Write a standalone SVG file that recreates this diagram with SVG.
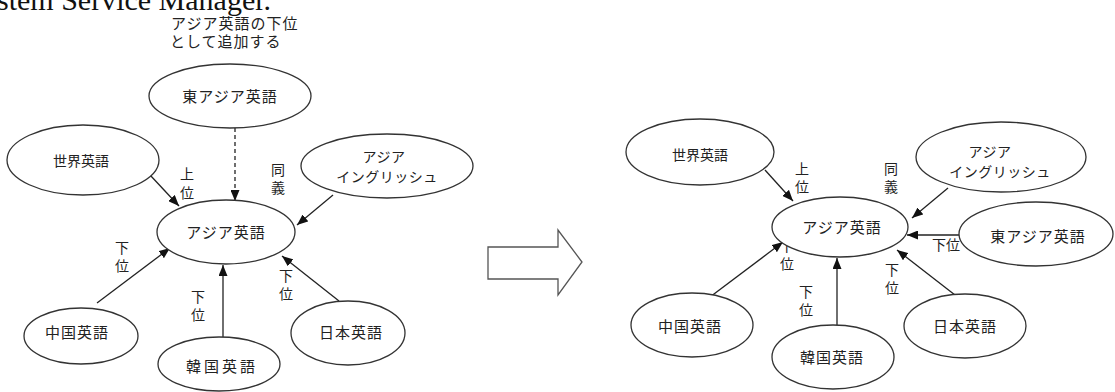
<svg xmlns="http://www.w3.org/2000/svg" width="1115" height="392" viewBox="0 0 1115 392">
<style>
  .n ellipse { fill: #fff; stroke: #333; stroke-width: 1.3; }
  .n text, .lbl { font-family: "Noto Sans CJK JP", "Noto Sans", sans-serif; fill: #222; text-anchor: middle; }
  .n text { font-size: 15px; letter-spacing: 1px; }
  .lbl { font-size: 14px; }
  .top { font-family: "Noto Sans CJK JP", "Noto Sans", sans-serif; fill: #222; font-size: 15px; letter-spacing: 1px; }
  .c line { stroke: #222; stroke-width: 1.3; marker-end: url(#ah); }
  .title { font-family: "Liberation Serif", serif; font-size: 30px; fill: #111; }
</style>
<defs>
  <marker id="ah" markerUnits="userSpaceOnUse" markerWidth="11" markerHeight="9" refX="11" refY="4.5" orient="auto">
    <path d="M0,0 L11,4.5 L0,9 z" fill="#111"/>
  </marker>
</defs>
<rect width="1115" height="392" fill="#fff"/>
<text class="title" x="-3" y="10">stem Service Manager.</text>
<text class="top" x="171" y="29">アジア英語の下位</text>
<text class="top" x="170" y="47">として追加する</text>

<g id="connectors" class="c">
  <line x1="235" y1="128" x2="235" y2="201" stroke-dasharray="4,3"/>
  <line x1="150" y1="175" x2="179" y2="206"/>
  <line x1="333" y1="195" x2="297" y2="225"/>
  <line x1="97" y1="303" x2="170" y2="248"/>
  <line x1="223" y1="337" x2="223" y2="265"/>
  <line x1="339" y1="301" x2="282" y2="256"/>
  <line x1="765" y1="170" x2="793" y2="201"/>
  <line x1="948" y1="188" x2="912" y2="218"/>
  <line x1="959" y1="235" x2="907" y2="235"/>
  <line x1="955" y1="295" x2="897" y2="250"/>
  <line x1="706" y1="300" x2="783" y2="242"/>
  <line x1="837" y1="329" x2="837" y2="258"/>
</g>

<g id="edge-labels">
  <text class="lbl" x="187" y="179">上</text>
  <text class="lbl" x="187" y="198">位</text>
  <text class="lbl" x="278" y="175">同</text>
  <text class="lbl" x="278" y="193">義</text>
  <text class="lbl" x="122" y="253">下</text>
  <text class="lbl" x="122" y="271">位</text>
  <text class="lbl" x="198" y="302">下</text>
  <text class="lbl" x="198" y="320">位</text>
  <text class="lbl" x="286" y="281">下</text>
  <text class="lbl" x="286" y="299">位</text>
  <text class="lbl" x="802" y="174">上</text>
  <text class="lbl" x="802" y="192">位</text>
  <text class="lbl" x="891" y="174">同</text>
  <text class="lbl" x="891" y="192">義</text>
  <text class="lbl" x="946" y="250">下位</text>
  <text class="lbl" x="892" y="275">下</text>
  <text class="lbl" x="892" y="293">位</text>
  <text class="lbl" x="787" y="251">下</text>
  <text class="lbl" x="787" y="269">位</text>
  <text class="lbl" x="806" y="297">下</text>
  <text class="lbl" x="806" y="315">位</text>
</g>

<g id="transform-arrow">
  <polygon points="488,247 558,247 558,230 582,262 558,295 558,279 488,279" fill="#fff" stroke="#555" stroke-width="1.3"/>
</g>

<g id="L-east-asian" class="n"><ellipse cx="230" cy="96" rx="81" ry="32"/><text x="230" y="102">東アジア英語</text></g>
<g id="L-world" class="n"><ellipse cx="83" cy="160" rx="76" ry="35"/><text x="81" y="166" style="letter-spacing:0;font-size:14px">世界英語</text></g>
<g id="L-asian" class="n"><ellipse cx="226" cy="232" rx="69" ry="32"/><text x="226" y="238">アジア英語</text></g>
<g id="L-asianglish" class="n"><ellipse cx="387" cy="166" rx="86" ry="32"/><text x="384" y="162" style="font-size:14px;letter-spacing:0.5px">アジア</text><text x="387" y="182" style="font-size:14px;letter-spacing:0.5px">イングリッシュ</text></g>
<g id="L-chinese" class="n"><ellipse cx="81" cy="336" rx="57" ry="28"/><text x="77" y="338">中国英語</text></g>
<g id="L-korean" class="n"><ellipse cx="219" cy="364" rx="61" ry="27"/><text x="222" y="372" style="letter-spacing:3px">韓国英語</text></g>
<g id="L-japanese" class="n"><ellipse cx="348" cy="333" rx="57" ry="32"/><text x="351" y="338">日本英語</text></g>

<g id="R-world" class="n"><ellipse cx="700" cy="152" rx="74" ry="33"/><text x="700" y="160" style="letter-spacing:0;font-size:14px">世界英語</text></g>
<g id="R-asian" class="n"><ellipse cx="840" cy="227" rx="68" ry="30"/><text x="842" y="233">アジア英語</text></g>
<g id="R-asianglish" class="n"><ellipse cx="1001" cy="157" rx="85" ry="35"/><text x="990" y="157" style="font-size:14px;letter-spacing:0.5px">アジア</text><text x="1000" y="177" style="font-size:14px;letter-spacing:0.5px">イングリッシュ</text></g>
<g id="R-east-asian" class="n"><ellipse cx="1036" cy="234" rx="77" ry="32"/><text x="1038" y="242">東アジア英語</text></g>
<g id="R-chinese" class="n"><ellipse cx="692" cy="325" rx="61" ry="32"/><text x="690" y="332">中国英語</text></g>
<g id="R-korean" class="n"><ellipse cx="833" cy="357" rx="61" ry="32"/><text x="832" y="363">韓国英語</text></g>
<g id="R-japanese" class="n"><ellipse cx="965" cy="326" rx="61" ry="32"/><text x="965" y="332">日本英語</text></g>
</svg>
